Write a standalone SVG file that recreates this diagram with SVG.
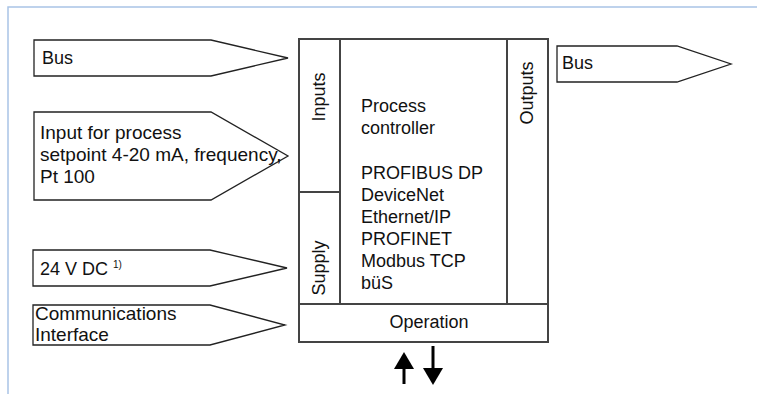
<svg xmlns="http://www.w3.org/2000/svg" width="757" height="394" viewBox="0 0 757 394">
<style>
.t{font-family:"Liberation Sans",Arial,Helvetica,sans-serif;font-size:18px;fill:#111}
.t19{font-size:19px}
.sh{fill:#fff;stroke:#222;stroke-width:1.3}
.bx{fill:#fff;stroke:#444;stroke-width:2}
.ln{stroke:#444;stroke-width:2;fill:none}
.ar{stroke:#000;stroke-width:3}
.hd{fill:#000}
</style>
<rect width="757" height="394" fill="#fff"/>
<path d="M8,394 V7 H757" fill="none" stroke="#a9c4e6" stroke-width="1.5"/>
<g id="in-bus">
<polygon class="sh" points="34,40 211,40 288,58 211,76 34,76"/>
<text class="t" x="42" y="64">Bus</text>
</g>
<g id="in-setpoint">
<polygon class="sh" points="34,112 211,112 288,156 211,200 34,200"/>
<text class="t t19" x="40" y="139">Input for process</text>
<text class="t t19" x="40" y="161">setpoint 4-20 mA, frequency,</text>
<text class="t t19" x="40" y="183">Pt 100</text>
</g>
<g id="in-supply">
<polygon class="sh" points="33,250 210,250 287,268 210,286 33,286"/>
<text class="t" x="40" y="275">24 V DC <tspan font-size="10" dy="-7">1)</tspan></text>
</g>
<g id="in-comm">
<polygon class="sh" points="33,305 210,305 285,325 210,345 33,345"/>
<text class="t t19" x="35" y="320">Communications</text>
<text class="t t19" x="35" y="341">Interface</text>
</g>
<g id="controller">
<rect class="bx" x="299" y="39" width="249" height="303"/>
<path class="ln" d="M340,39 V304 M507,39 V304 M299,304 H548 M299,192 H340"/>
<text class="t" transform="translate(325,97) rotate(-90)" text-anchor="middle">Inputs</text>
<text class="t" transform="translate(325,268) rotate(-90)" text-anchor="middle">Supply</text>
<text class="t" transform="translate(533,93) rotate(-90)" text-anchor="middle">Outputs</text>
<text class="t" x="361" y="112">Process</text>
<text class="t" x="361" y="134">controller</text>
<text class="t" x="361" y="179">PROFIBUS DP</text>
<text class="t" x="361" y="201">DeviceNet</text>
<text class="t" x="361" y="223">Ethernet/IP</text>
<text class="t" x="361" y="245">PROFINET</text>
<text class="t" x="361" y="267">Modbus TCP</text>
<text class="t" x="361" y="289">büS</text>
<text class="t" x="429" y="328" text-anchor="middle">Operation</text>
</g>
<g id="out-bus">
<polygon class="sh" points="557,46 677,46 731,64 677,82 557,82"/>
<text class="t" x="562" y="69">Bus</text>
</g>
<g id="connectors">
<line class="ar" x1="404" y1="384" x2="404" y2="366"/>
<polygon class="hd" points="404,352 414,369 394,369"/>
<line class="ar" x1="433" y1="346" x2="433" y2="370"/>
<polygon class="hd" points="433,385 443,368 423,368"/>
</g>
</svg>
